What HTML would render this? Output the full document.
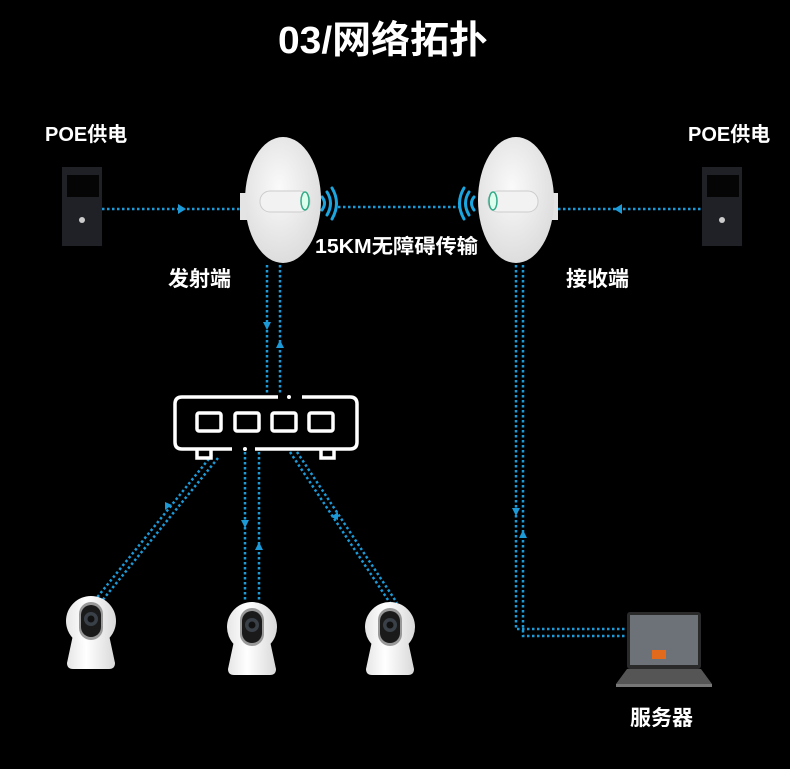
<!DOCTYPE html>
<html><head><meta charset="utf-8"><style>
html,body{margin:0;padding:0;background:#000;}
svg{display:block}
text{font-family:"Liberation Sans","Noto Sans CJK SC",sans-serif;fill:#fff;font-weight:bold}
</style></head><body>
<svg width="790" height="769" viewBox="0 0 790 769" xmlns="http://www.w3.org/2000/svg">
<defs>
<radialGradient id="dish" cx="0.45" cy="0.4" r="0.7"><stop offset="0" stop-color="#fafafa"/><stop offset="1" stop-color="#d8d8d8"/></radialGradient>
<linearGradient id="body" x1="0" x2="1"><stop offset="0" stop-color="#e6e6e6"/><stop offset="0.4" stop-color="#fff"/><stop offset="1" stop-color="#d9d9d9"/></linearGradient>
<g id="cam">
<path d="M-18,14 L18,14 L24,42 Q24,48 18,48 L-18,48 Q-24,48 -24,42 Z" fill="url(#body)"/>
<circle cx="0" cy="0" r="25" fill="url(#body)"/>
<rect x="-12" y="-19" width="24" height="38" rx="12" fill="#999"/>
<rect x="-10" y="-16" width="20" height="32" rx="10" fill="#1a1a1a"/>
<circle cx="0" cy="-2" r="7" fill="#3a4048"/>
<circle cx="0" cy="-2" r="3.5" fill="#111"/>
</g>
<g id="pc">
<rect x="0" y="0" width="40" height="79" fill="#1f2126"/>
<rect x="5" y="8" width="32" height="22" fill="#050505"/>
<circle cx="20" cy="53" r="3" fill="#ccc"/>
</g>
</defs>
<text x="383" y="53" text-anchor="middle" font-size="38" textLength="210" lengthAdjust="spacingAndGlyphs">03/网络拓扑</text>
<text x="45" y="141" font-size="20">POE供电</text>
<text x="688" y="141" font-size="20">POE供电</text>
<text x="168" y="286" font-size="21">发射端</text>
<text x="566" y="286" font-size="21">接收端</text>
<text x="315" y="253" font-size="20" textLength="163" lengthAdjust="spacingAndGlyphs">15KM无障碍传输</text>
<text x="630" y="725" font-size="21">服务器</text>
<use href="#pc" x="62" y="167"/>
<use href="#pc" x="702" y="167"/>
<g stroke="#1c9ad8" stroke-width="2.5" stroke-dasharray="2.5 2.5" fill="none">
<path d="M102,209 H240"/>
<path d="M553,209 H702"/>
<path d="M267,265 V395 M280,265 V395"/>
<path d="M212,455 L95,600 M218,458 L101,602"/>
<path d="M245,452 V602 M259,452 V602"/>
<path d="M290,452 L390,603 M297,452 L397,603"/>
<path d="M516,265 V629 H628 M523,265 V636 H628"/>
<path d="M338,207 H460"/>
</g>
<g fill="#1c9ad8">
<path d="M186,209 l-8,-5 v10 z"/>
<path d="M614,209 l8,-5 v10 z"/>
<path d="M267,330 l-4,-8 h8 z"/>
<path d="M280,340 l-4,8 h8 z"/>
<path d="M516,516 l-4,-8 h8 z"/>
<path d="M523,530 l-4,8 h8 z"/>
<path d="M245,528 l-4,-8 h8 z"/>
<path d="M259,542 l-4,8 h8 z"/>
<path d="M165,510 l0,-8 l7,3 z"/>
<path d="M338,512 l0,8 l-7,-3 z"/>
</g>
<g stroke="#1ba6e0" fill="none" stroke-width="3" stroke-linecap="round">
<path d="M322,197 Q327,203 322,210"/><path d="M327,192 Q334,203 327,215"/><path d="M332,188 Q341,203 332,219"/>
<path d="M474,197 Q469,203 474,210"/><path d="M469,192 Q462,203 469,215"/><path d="M464,188 Q455,203 464,219"/>
</g>
<rect x="240" y="193" width="20" height="27" fill="#e4e4e4"/>
<ellipse cx="283" cy="200" rx="38" ry="63" fill="url(#dish)"/>
<rect x="260" y="191" width="50" height="21" rx="10" fill="#f2f2f2" stroke="#ccc" stroke-width="1"/>
<ellipse cx="305" cy="201" rx="4" ry="9" fill="#dfe" stroke="#3a8" stroke-width="1.5"/>
<rect x="538" y="193" width="20" height="27" fill="#e4e4e4"/>
<ellipse cx="516" cy="200" rx="38" ry="63" fill="url(#dish)"/>
<rect x="488" y="191" width="50" height="21" rx="10" fill="#f2f2f2" stroke="#ccc" stroke-width="1"/>
<ellipse cx="493" cy="201" rx="4" ry="9" fill="#dfe" stroke="#3a8" stroke-width="1.5"/>
<g stroke="#fff" stroke-width="3.5" fill="none">
<path d="M278,397 H182 Q175,397 175,404 V442 Q175,449 182,449 H232 M255,449 H350 Q357,449 357,442 V404 Q357,397 350,397 H302"/>
<rect x="197" y="413" width="24" height="18" rx="2"/>
<rect x="235" y="413" width="24" height="18" rx="2"/>
<rect x="272" y="413" width="24" height="18" rx="2"/>
<rect x="309" y="413" width="24" height="18" rx="2"/>
<path d="M197,450 V458 H211 V450"/>
<path d="M321,450 V458 H334 V450"/>
</g>
<circle cx="289" cy="397" r="2" fill="#fff"/><circle cx="245" cy="449" r="2" fill="#fff"/>
<use href="#cam" x="91" y="621"/>
<use href="#cam" x="252" y="627"/>
<use href="#cam" x="390" y="627"/>
<rect x="627" y="612" width="74" height="57" rx="3" fill="#2a2a2a"/>
<rect x="630" y="615" width="68" height="50" fill="#6d7278"/>
<rect x="652" y="650" width="14" height="9" fill="#e26a1c"/>
<path d="M627,669 H701 L712,684 H616 Z" fill="#555"/>
<rect x="616" y="684" width="96" height="3" fill="#777"/>
</svg>
</body></html>
